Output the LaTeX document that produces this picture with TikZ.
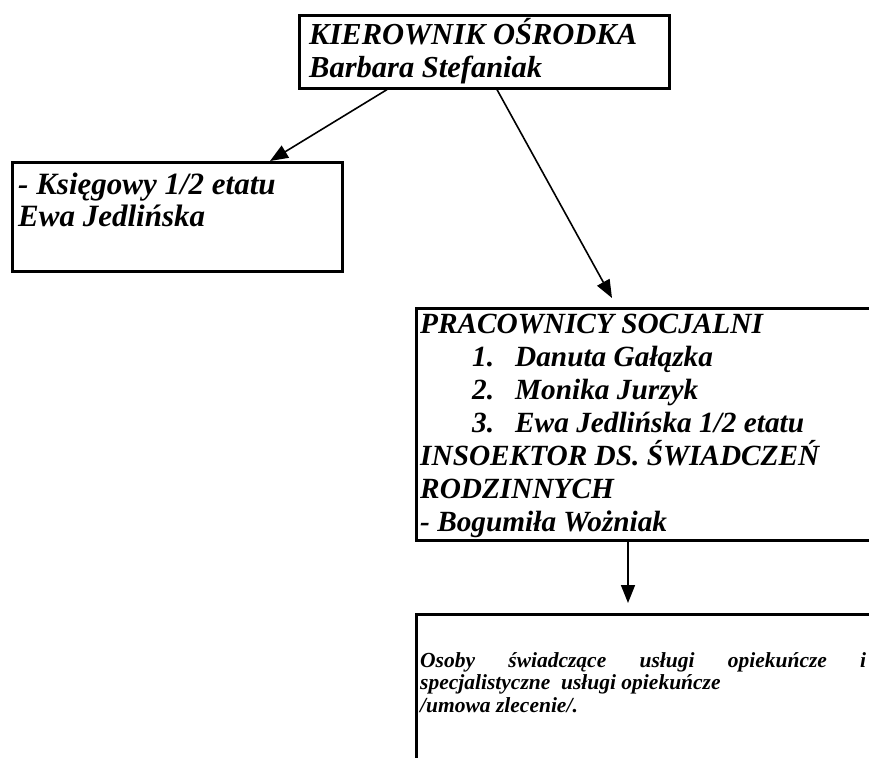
\documentclass[tikz,border=0pt]{standalone}
\usepackage{fontspec}
\setmainfont{Liberation Serif}
\usetikzlibrary{arrows.meta}
\begin{document}
\begin{tikzpicture}[x=1pt,y=-1pt,
  box/.style={draw, line width=2.6pt, rectangle, inner sep=0pt, anchor=north west},
  txt/.style={anchor=base west, inner sep=0pt, align=left, font=\bfseries\itshape},
  conn/.style={line width=1.6pt, -{Triangle[length=18pt,width=14pt]}}]
\useasboundingbox (0,0) rectangle (869,757);
\clip (0,0) rectangle (869,757);
% boxes
\node[box, minimum width=370pt, minimum height=73pt] (chief) at (298,14) {};
\node[box, minimum width=330pt, minimum height=109pt] (acc) at (11,161) {};
\node[box, minimum width=480pt, minimum height=232pt] (soc) at (415,307) {};
\node[box, minimum width=480pt, minimum height=220pt] (care) at (415,613) {};
% texts (base anchor = baseline of the last line)
\node[txt, font=\bfseries\itshape\fontsize{30.5}{33}\selectfont] (chieftxt) at (309,78)
  {KIEROWNIK OŚRODKA\\Barbara Stefaniak};
\node[txt, font=\bfseries\itshape\fontsize{31}{31.5}\selectfont] (acctxt) at (18,226)
  {- Księgowy 1/2 etatu\\Ewa Jedlińska};
\node[txt, font=\bfseries\itshape\fontsize{29.3}{33}\selectfont] (soctxt) at (420,531)
  {PRACOWNICY SOCJALNI\\
  \hspace*{52pt}\makebox[43pt][l]{1.}Danuta Gałązka\\
  \hspace*{52pt}\makebox[43pt][l]{2.}Monika Jurzyk\\
  \hspace*{52pt}\makebox[43pt][l]{3.}Ewa Jedlińska 1/2 etatu\\
  INSOEKTOR DS. ŚWIADCZEŃ\\
  RODZINNYCH\\
  - Bogumiła Wożniak};
\node[txt, font=\bfseries\itshape\fontsize{21.5}{22.5}\selectfont] (caretxt) at (420,712)
  {\makebox[446pt][s]{Osoby\hfill świadczące\hfill usługi\hfill opiekuńcze\hfill i}\\
  specjalistyczne\ \ usługi opiekuńcze\\
  /umowa zlecenie/.};
% connectors
\draw[conn] ([xshift=89pt]chief.south west) -- ([xshift=259pt]acc.north west);
\draw[conn] ([xshift=199pt]chief.south west) -- ([xshift=197pt,yshift=9pt]soc.north west);
\draw[conn] ([xshift=213pt]soc.south west) -- ([xshift=213pt,yshift=10pt]care.north west);
\end{tikzpicture}
\end{document}
